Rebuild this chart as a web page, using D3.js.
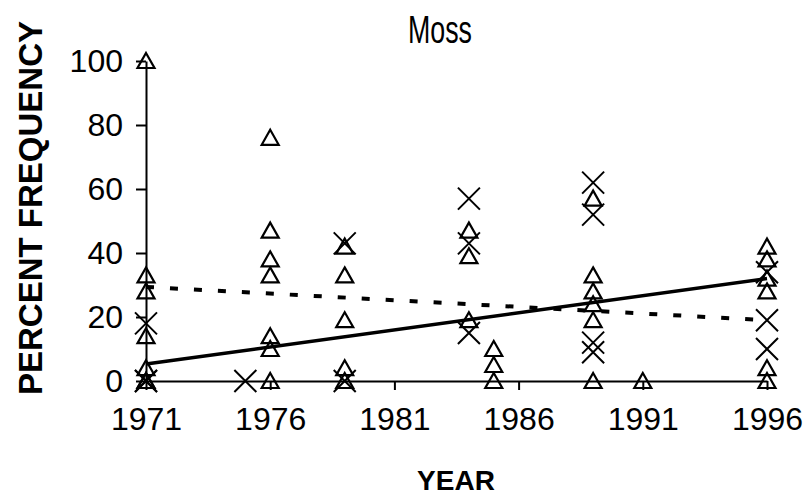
<!DOCTYPE html>
<html>
<head>
<meta charset="utf-8">
<script src="https://cdn.jsdelivr.net/npm/d3@7"></script>
<style>
  body { margin: 0; background: #fff; }
  text { font-family: "Liberation Sans", Arial, sans-serif; fill: #000; }
  .axis path, .axis line { stroke: #000; stroke-width: 2px; }
  .axis text { font-size: 32px; font-family: "Liberation Sans", Arial, sans-serif; }
</style>
</head>
<body>
<div class="chart"></div>
<script>
// values
var triYears  = [1971, 1971, 1971, 1971, 1971, 1971, 1971,
                 1976, 1976, 1976, 1976, 1976, 1976, 1976,
                 1979, 1979, 1979, 1979, 1979,
                 1984, 1984, 1984,
                 1985, 1985, 1985,
                 1989, 1989, 1989, 1989, 1989, 1989,
                 1991,
                 1996, 1996, 1996, 1996, 1996, 1996];
var triValues = [100, 33, 28, 14, 4, 0, 0,
                 76, 47, 38, 33, 14, 10, 0,
                 42, 33, 19, 4, 0,
                 47, 39, 19,
                 10, 5, 0,
                 57, 33, 28, 24, 19, 0,
                 0,
                 42, 38, 32, 28, 4, 0];

var crossYears  = [1971, 1971, 1971, 1975, 1979, 1979, 1984, 1984, 1984,
                   1989, 1989, 1989, 1989, 1996, 1996, 1996];
var crossValues = [18, 0, 0, 0, 43, 0, 57, 43, 15,
                   62, 52, 12, 9, 34, 19, 10];

var trendYears  = [1971, 1996];
var solidTrend  = [5.3, 32];
var dashedTrend = [29.4, 19];

var xTicks = [1971, 1976, 1981, 1986, 1991, 1996];
var yTicks = [0, 20, 40, 60, 80, 100];

var svgWidth = 805;
var svgHeight = 504;
var margin = { top: 61, right: 38, bottom: 123, left: 146 };
var width = svgWidth - margin.left - margin.right;
var height = svgHeight - margin.top - margin.bottom;

var svg = d3.select(".chart")
  .append("svg")
  .attr("width", svgWidth)
  .attr("height", svgHeight);

var chartGroup = svg.append("g")
  .attr("transform", `translate(${margin.left}, ${margin.top})`);

var x = d3.scaleLinear().domain([1971, 1996]).range([0, width]);
var y = d3.scaleLinear().domain([0, 100]).range([height, 0]);

// axes
chartGroup.append("g")
  .attr("class", "axis")
  .attr("transform", `translate(0, ${height})`)
  .call(d3.axisBottom(x).tickValues(xTicks).tickFormat(d3.format("d"))
    .tickSizeInner(9).tickSizeOuter(0).tickPadding(17));

chartGroup.append("g")
  .attr("class", "axis")
  .call(d3.axisLeft(y).tickValues(yTicks).tickSizeInner(10).tickSizeOuter(0).tickPadding(13));

// trend lines
var line = d3.line().x(d => x(d[0])).y(d => y(d[1]));

chartGroup.append("path")
  .datum(trendYears.map((t, i) => [t, solidTrend[i]]))
  .attr("d", line)
  .attr("fill", "none")
  .attr("stroke", "#000")
  .attr("stroke-width", 3.5);

chartGroup.append("path")
  .datum(trendYears.map((t, i) => [t, dashedTrend[i]]))
  .attr("d", line)
  .attr("fill", "none")
  .attr("stroke", "#000")
  .attr("stroke-width", 4)
  .attr("stroke-dasharray", "8,16");

// triangle markers
chartGroup.selectAll(".tri")
  .data(triValues)
  .enter()
  .append("path")
  .attr("class", "tri")
  .attr("transform", (d, i) => `translate(${x(triYears[i])}, ${y(d)})`)
  .attr("d", "M0,-8L8.5,7L-8.5,7Z")
  .attr("fill", "none")
  .attr("stroke", "#000")
  .attr("stroke-width", 2.2);

// cross markers
chartGroup.selectAll(".cross")
  .data(crossValues)
  .enter()
  .append("path")
  .attr("class", "cross")
  .attr("transform", (d, i) => `translate(${x(crossYears[i])}, ${y(d)})`)
  .attr("d", "M-11,-11L11,11M-11,11L11,-11")
  .attr("fill", "none")
  .attr("stroke", "#000")
  .attr("stroke-width", 2);

// title and axis labels
svg.append("text")
  .attr("x", 440)
  .attr("y", 43)
  .attr("text-anchor", "middle")
  .attr("textLength", 64)
  .attr("lengthAdjust", "spacingAndGlyphs")
  .style("font-size", "38px")
  .text("Moss");

svg.append("text")
  .attr("transform", "rotate(-90)")
  .attr("x", -208)
  .attr("y", 42)
  .attr("text-anchor", "middle")
  .style("font-size", "33px")
  .style("font-weight", "bold")
  .text("PERCENT FREQUENCY");

svg.append("text")
  .attr("x", 456)
  .attr("y", 490)
  .attr("text-anchor", "middle")
  .style("font-size", "28px")
  .style("font-weight", "bold")
  .text("YEAR");
</script>
</body>
</html>
